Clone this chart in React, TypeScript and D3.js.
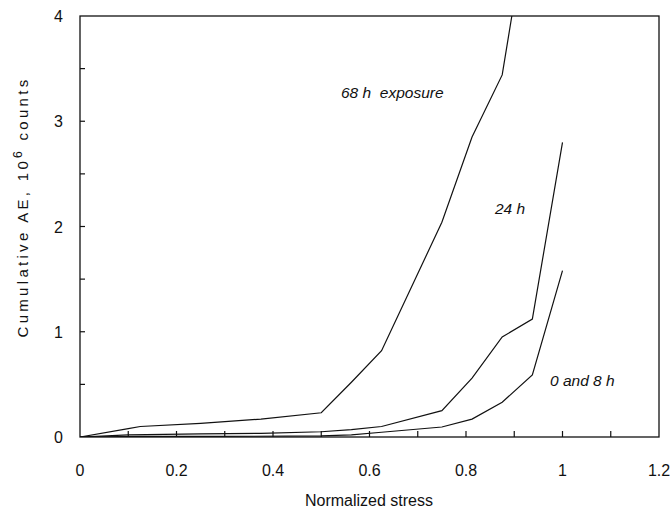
import React from "react";
import * as d3 from "d3";

const stress68 = [0, 0.1, 0.125, 0.25, 0.375, 0.5, 0.5625, 0.625, 0.75, 0.8125, 0.875, 0.895];
const ae68 = [0, 0.08, 0.1, 0.13, 0.17, 0.23, 0.52, 0.82, 2.04, 2.85, 3.44, 4.0];

const stress24 = [0, 0.1, 0.25, 0.375, 0.5, 0.5625, 0.625, 0.75, 0.8125, 0.875, 0.9375, 1.0];
const ae24 = [0, 0.02, 0.03, 0.035, 0.05, 0.07, 0.1, 0.25, 0.56, 0.95, 1.12, 2.8];

const stress08 = [0, 0.125, 0.25, 0.5, 0.5625, 0.625, 0.75, 0.8125, 0.875, 0.9375, 1.0];
const ae08 = [0, 0.005, 0.005, 0.01, 0.02, 0.045, 0.095, 0.17, 0.33, 0.59, 1.58];

const xTicks = [0, 0.2, 0.4, 0.6, 0.8, 1, 1.2];
const xMinor = [0.1, 0.2, 0.3, 0.4, 0.5, 0.6, 0.7, 0.8, 0.9, 1.0, 1.1];
const yTicks = [0, 1, 2, 3, 4];
const yMinor = [0.5, 1, 1.5, 2, 2.5, 3, 3.5];

const series = [
  { xs: stress68, ys: ae68 },
  { xs: stress24, ys: ae24 },
  { xs: stress08, ys: ae08 },
];

export default function App() {
  const W = 672, H = 513;
  const L = 80, R = 659, T = 16, B = 437;
  const x = d3.scaleLinear().domain([0, 1.2]).range([L, R]);
  const y = d3.scaleLinear().domain([0, 4]).range([B, T]);
  const line = d3
    .line<[number, number]>()
    .x((d) => x(d[0]))
    .y((d) => y(d[1]));
  const font = "'Liberation Sans', Arial, Helvetica, sans-serif";
  return (
    <svg
      width={W}
      height={H}
      style={{ position: "absolute", left: 0, top: 0, background: "#fff" }}
      fontFamily={font}
    >
      <defs>
        <clipPath id="plot">
          <rect x={L} y={T} width={R - L} height={B - T} />
        </clipPath>
      </defs>
      <rect x={L} y={T} width={R - L} height={B - T} fill="none" stroke="#111" strokeWidth={1.3} />
      {xMinor.map((t) => (
        <line key={"xm" + t} x1={x(t)} x2={x(t)} y1={B} y2={B - 6} stroke="#111" strokeWidth={1.2} />
      ))}
      {yMinor.map((t) => (
        <line key={"ym" + t} x1={L} x2={L + 5} y1={y(t)} y2={y(t)} stroke="#111" strokeWidth={1.2} />
      ))}
      <g clipPath="url(#plot)">
        {series.map((s, i) => (
          <path
            key={i}
            d={line(s.xs.map((v, j) => [v, s.ys[j]] as [number, number])) || ""}
            fill="none"
            stroke="#111"
            strokeWidth={1.2}
          />
        ))}
      </g>
      {xTicks.map((t) => (
        <text key={"xt" + t} x={x(t)} y={476} fontSize={16} textAnchor="middle" fill="#111">
          {String(t)}
        </text>
      ))}
      {yTicks.map((t) => (
        <text key={"yt" + t} x={63} y={y(t) + 6} fontSize={16} textAnchor="end" fill="#111">
          {String(t)}
        </text>
      ))}
      <text x={369} y={506} fontSize={16} textAnchor="middle" fill="#111">
        Normalized stress
      </text>
      <text
        transform={`translate(28, 207) rotate(-90)`}
        fontSize={15}
        textAnchor="middle"
        fill="#111"
        letterSpacing={3.3}
      >
        Cumulative AE, 10
        <tspan dy={-6} fontSize={12}>6</tspan>
        <tspan dy={6}> counts</tspan>
      </text>
      <text x={341} y={98} fontSize={15.5} fontStyle="italic" fill="#111" style={{ whiteSpace: "pre" }}>
        {"68 h  exposure"}
      </text>
      <text x={495} y={214} fontSize={15.5} fontStyle="italic" fill="#111">
        24 h
      </text>
      <text x={550} y={386} fontSize={15.5} fontStyle="italic" fill="#111">
        0 and 8 h
      </text>
    </svg>
  );
}
